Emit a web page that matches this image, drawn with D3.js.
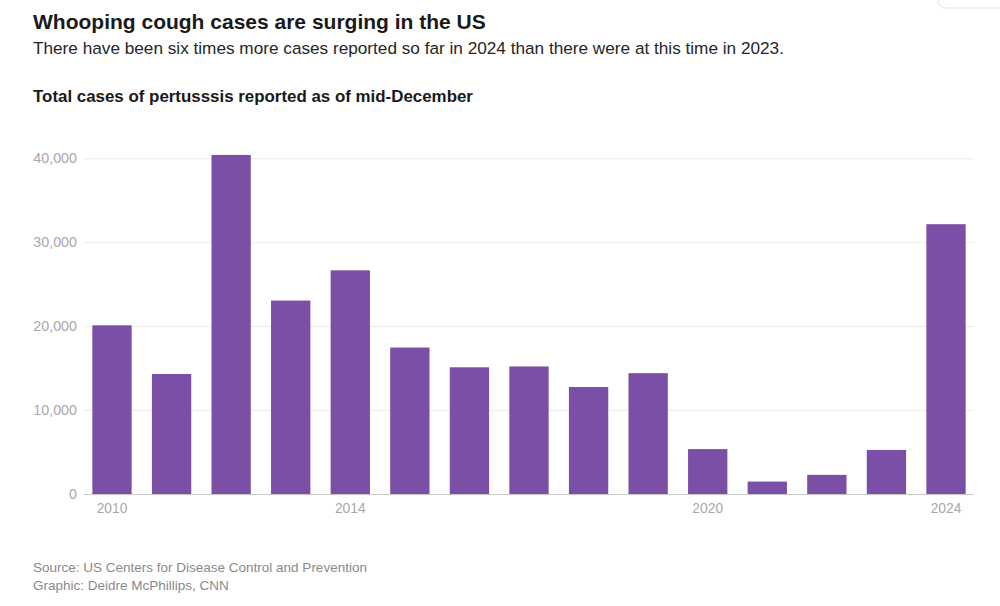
<!DOCTYPE html>
<html><head><meta charset="utf-8">
<script src="https://cdn.jsdelivr.net/npm/d3@7"></script>
<style>
html,body{margin:0;padding:0;background:#fff;}
svg{display:block;font-family:"Liberation Sans",Arial,sans-serif;}
</style></head>
<body>
<svg id="c" width="1000" height="606"></svg>
<script>
const years = [2010,2011,2012,2013,2014,2015,2016,2017,2018,2019,2020,2021,2022,2023,2024];
const cases = [20100,14300,40400,23050,26650,17450,15100,15200,12750,14400,5350,1480,2280,5250,32150];
const yTicks = [0,10000,20000,30000,40000];
const xTickYears = [2010,2014,2020,2024];

const svg = d3.select("#c");

// top-right decorative box
svg.append("rect").attr("x",938).attr("y",-12).attr("width",80).attr("height",20)
  .attr("rx",8).attr("fill","#fff").attr("stroke","#e2e2e2");

svg.append("text").attr("x",33).attr("y",29).attr("font-size",21).attr("font-weight","bold")
  .attr("fill","#1a1a1a").text("Whooping cough cases are surging in the US");
svg.append("text").attr("x",33).attr("y",54).attr("font-size",17.2).attr("fill","#262626")
  .text("There have been six times more cases reported so far in 2024 than there were at this time in 2023.");
svg.append("text").attr("x",33).attr("y",102).attr("font-size",16.9).attr("font-weight","bold")
  .attr("fill","#1a1a1a").text("Total cases of pertusssis reported as of mid-December");

const x = d3.scaleBand().domain(years).range([84,974]).paddingInner(0.34).paddingOuter(0.14);
const y = d3.scaleLinear().domain([0,40000]).range([494,158.3]);

const gy = svg.append("g").attr("transform","translate(84,0)")
  .call(d3.axisLeft(y).tickValues(yTicks).tickSize(-890).tickPadding(7).tickFormat(d3.format(",")));
gy.select(".domain").remove();
gy.selectAll(".tick line").attr("stroke","#ebebeb");
gy.selectAll(".tick text").attr("fill","#a8a8a8").attr("font-size",14.3)
  .attr("font-family","Liberation Sans, Arial, sans-serif");

svg.append("g").selectAll("rect").data(years).join("rect")
  .attr("x",d=>x(d)).attr("width",x.bandwidth())
  .attr("y",(d,i)=>y(cases[i])).attr("height",(d,i)=>y(0)-y(cases[i]))
  .attr("fill","#7b4fa6");

const gx = svg.append("g").attr("transform","translate(0,494)")
  .call(d3.axisBottom(x).tickValues(xTickYears).tickSize(0).tickPadding(9));
gx.select(".domain").attr("stroke","#c8c8c8").attr("d","M84,0.5H974");
gx.selectAll(".tick text").attr("fill","#a8a8a8").attr("font-size",13.8)
  .attr("font-family","Liberation Sans, Arial, sans-serif");

svg.append("text").attr("x",33).attr("y",572).attr("font-size",13.5).attr("fill","#8a8a8a")
  .text("Source: US Centers for Disease Control and Prevention");
svg.append("text").attr("x",33).attr("y",590).attr("font-size",13.5).attr("fill","#8a8a8a")
  .text("Graphic: Deidre McPhillips, CNN");
</script>
</body></html>
